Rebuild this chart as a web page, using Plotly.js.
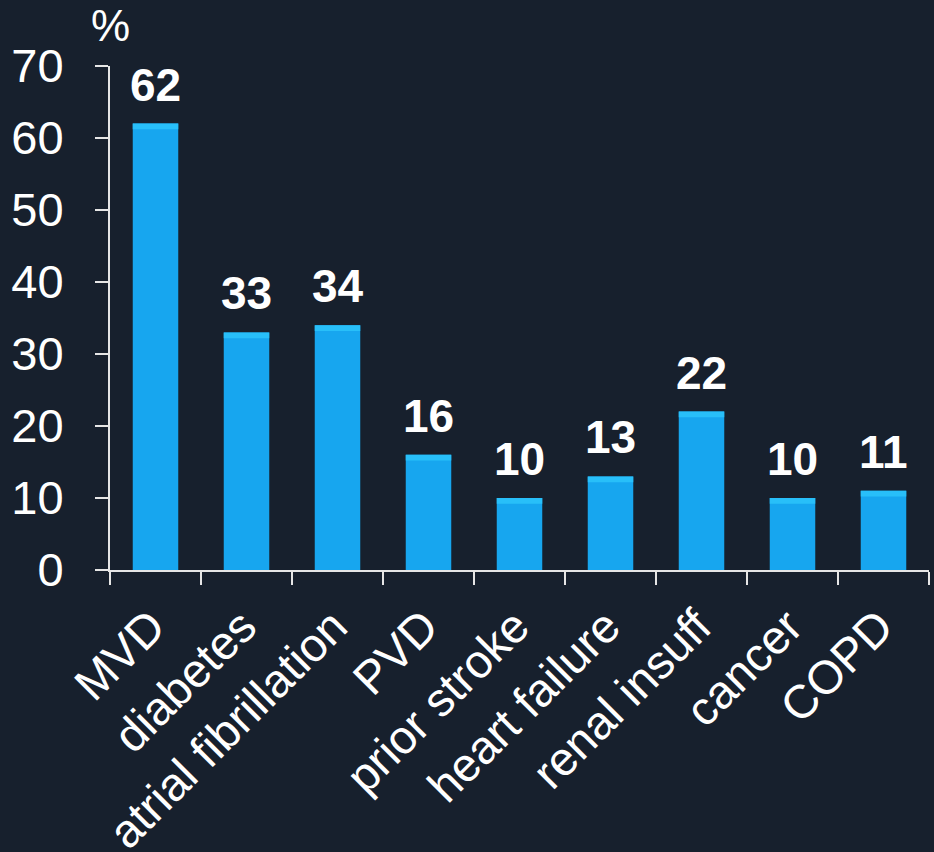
<!DOCTYPE html>
<html>
<head>
<meta charset="utf-8">
<script src="https://cdn.plot.ly/plotly-3.0.1.min.js"></script>
<style>
  html, body { margin: 0; padding: 0; background: #17202d; }
  #chart { width: 934px; height: 852px; }
</style>
</head>
<body>
<div id="chart"></div>
<script>
const categories = ["MVD", "diabetes", "atrial fibrillation", "PVD", "prior stroke", "heart failure", "renal insuff", "cancer", "COPD"];
const values = [62, 33, 34, 16, 10, 13, 22, 10, 11];
const yTicks = [0, 10, 20, 30, 40, 50, 60, 70];

const fontFamily = '"Liberation Sans", Arial, sans-serif';
const axisColor = '#e6e6e6';
const capHeight = 0.8;

const trace = {
  type: 'bar',
  x: categories,
  y: values,
  marker: { color: '#17a6ef', line: { width: 0 } },
  hoverinfo: 'x+y'
};
const capTrace = {
  type: 'bar',
  x: categories,
  y: values.map(() => capHeight),
  base: values.map(v => v - capHeight),
  marker: { color: '#28bff9', line: { width: 0 } },
  hoverinfo: 'skip'
};

const annotations = categories.map((c, i) => ({
  x: c, y: values[i], xref: 'x', yref: 'y',
  text: '<b>' + values[i] + '</b>',
  showarrow: false, yanchor: 'bottom', yshift: 11,
  font: { family: fontFamily, size: 46, color: '#ffffff' }
}));
annotations.push({
  xref: 'paper', yref: 'paper', x: 0, y: 1, xanchor: 'center', yanchor: 'bottom',
  yshift: 14, xshift: 0,
  text: '%', showarrow: false,
  font: { family: fontFamily, size: 44, color: '#ffffff' }
});

const layout = {
  width: 934, height: 852,
  paper_bgcolor: '#17202d', plot_bgcolor: '#17202d',
  margin: { l: 110, r: 5, t: 66, b: 282 },
  bargap: 0.5,
  barmode: 'overlay',
  showlegend: false,
  font: { family: fontFamily, color: '#ffffff' },
  xaxis: {
    type: 'category',
    tickangle: -45,
    ticks: 'outside', tickson: 'boundaries', ticklen: 13, tickwidth: 2, tickcolor: axisColor,
    showline: true, linecolor: axisColor, linewidth: 2,
    showgrid: false, zeroline: false,
    ticklabelstandoff: 8, ticklabelshift: -4,
    tickfont: { family: fontFamily, size: 47, color: '#ffffff' }
  },
  yaxis: {
    range: [0, 70],
    tickvals: yTicks, ticktext: yTicks.map(String),
    ticks: 'outside', ticklen: 13, tickwidth: 2, tickcolor: axisColor,
    showline: true, linecolor: axisColor, linewidth: 2,
    showgrid: false, zeroline: false,
    ticklabelstandoff: 22,
    tickfont: { family: fontFamily, size: 47, color: '#ffffff' }
  },
  annotations: annotations
};

Plotly.newPlot('chart', [trace, capTrace], layout, { displayModeBar: false, staticPlot: true });
</script>
</body>
</html>
